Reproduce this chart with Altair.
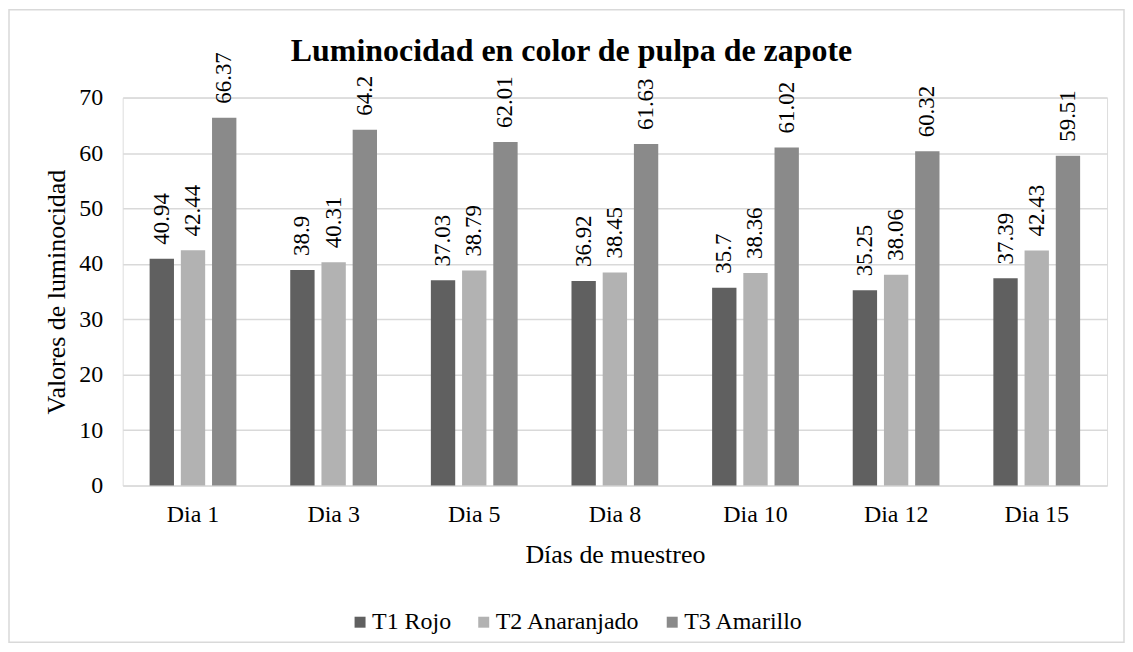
import altair as alt
import pandas as pd

dias = ["Dia 1", "Dia 3", "Dia 5", "Dia 8", "Dia 10", "Dia 12", "Dia 15"]
series = ["T1 Rojo", "T2 Anaranjado", "T3 Amarillo"]
t1_rojo = [40.94, 38.9, 37.03, 36.92, 35.7, 35.25, 37.39]
t2_anaranjado = [42.44, 40.31, 38.79, 38.45, 38.36, 38.06, 42.43]
t3_amarillo = [66.37, 64.2, 62.01, 61.63, 61.02, 60.32, 59.51]
y_ticks = [0, 10, 20, 30, 40, 50, 60, 70]
colors = ["#606060", "#b2b2b2", "#8a8a8a"]
chart_title = ["Luminocidad en color de pulpa de zapote"]

rows = []
for s, vals in zip(series, [t1_rojo, t2_anaranjado, t3_amarillo]):
    for d, v in zip(dias, vals):
        rows.append({"dia": d, "serie": s, "valor": v})
df = pd.DataFrame(rows)

FONT = "Liberation Serif, Times New Roman, Times, serif"
W, H = 987, 389

base = alt.Chart(df).encode(
    x=alt.X(
        "dia:N",
        sort=dias,
        scale=alt.Scale(paddingInner=0.383, paddingOuter=0.1915),
        axis=alt.Axis(
            title="Días de muestreo",
            labelAngle=0,
            labelFont=FONT,
            labelFontSize=24,
            labelColor="#000000",
            labelPadding=17,
            ticks=False,
            domain=False,
            grid=False,
            titleFont=FONT,
            titleFontSize=26,
            titleFontWeight="normal",
            titleColor="#000000",
            titleBaseline="alphabetic",
            titleY=77,
        ),
    ),
    xOffset=alt.XOffset(
        "serie:N", sort=series, scale=alt.Scale(paddingInner=0.22, paddingOuter=0)
    ),
    y=alt.Y(
        "valor:Q",
        scale=alt.Scale(domain=[0, 70], nice=False),
        axis=alt.Axis(
            title="Valores de luminocidad",
            values=y_ticks,
            labelFont=FONT,
            labelFontSize=24,
            labelColor="#000000",
            labelPadding=20,
            ticks=False,
            domain=False,
            grid=True,
            gridColor="#d9d9d9",
            gridWidth=1.5,
            titleFont=FONT,
            titleFontSize=26,
            titleFontWeight="normal",
            titleColor="#000000",
            titleAngle=270,
            titleBaseline="alphabetic",
            titleAlign="center",
            titleX=-58,
            titleY=H / 2,
        ),
    ),
)

bars = base.mark_bar().encode(
    color=alt.Color(
        "serie:N",
        sort=series,
        scale=alt.Scale(domain=series, range=colors),
        legend=alt.Legend(
            title=None,
            orient="none",
            direction="horizontal",
            legendX=226,
            legendY=514,
            symbolType="square",
            symbolSize=121,
            symbolStrokeWidth=0,
            labelFont=FONT,
            labelFontSize=24,
            labelColor="#000000",
            labelOffset=0,
            columnPadding=20,
            padding=0,
        ),
    )
)

labels = base.mark_text(
    angle=270,
    align="left",
    baseline="middle",
    dx=14,
    font=FONT,
    fontSize=23,
    color="#000000",
).encode(text=alt.Text("valor:Q"))

border = alt.Chart(pd.DataFrame({"k": [0]})).mark_rect(
    fillOpacity=0, stroke="#d9d9d9", strokeWidth=1.5
).encode(
    x=alt.value(-114), x2=alt.value(1004), y=alt.value(-88), y2=alt.value(546)
)

title = alt.Chart(pd.DataFrame({"t": chart_title})).mark_text(
    font=FONT,
    fontSize=32,
    fontWeight="bold",
    color="#000000",
    align="center",
    baseline="alphabetic",
).encode(text="t:N", x=alt.value(450), y=alt.value(-37))

chart = (
    alt.layer(border, bars, labels, title)
    .properties(
        width=W,
        height=H,
        autosize=alt.AutoSizeParams(type="none"),
        padding={"left": 115, "top": 89, "right": 18, "bottom": 158},
    )
    .configure_view(stroke=None)
    .configure(background="white")
)

chart.save("out.html", embed_options={"renderer": "svg", "actions": False})
